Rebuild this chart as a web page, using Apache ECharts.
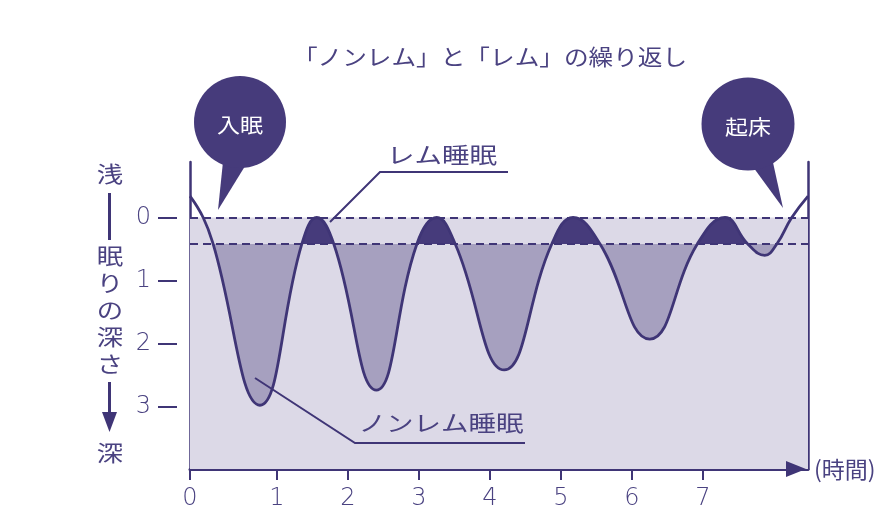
<!DOCTYPE html>
<html><head><meta charset="utf-8">
<script src="https://cdn.jsdelivr.net/npm/echarts@6/dist/echarts.min.js"></script>
<style>html,body{margin:0;padding:0;background:#fff}#c{width:886px;height:532px}</style>
</head><body><div id="c"></div>
<script>
// ---- data ----
const hours = [-0.225, -0.04, 0.10, 0.76, 1.35, 1.56, 1.80, 2.40, 2.97, 3.25, 3.51, 4.20, 4.87, 5.17, 5.55, 6.25, 6.92, 7.31, 7.63, 7.87, 8.04, 8.25, 8.48];
const depth = [-0.34, 0.00, 0.42, 2.98, 0.42, 0.00, 0.42, 2.74, 0.42, 0.00, 0.42, 2.42, 0.42, 0.00, 0.42, 1.93, 0.42, 0.00, 0.42, 0.60, 0.42, 0.00, -0.34];
const xTickLabels = ['0', '1', '2', '3', '4', '5', '6', '7'];
const yTickLabels = ['0', '1', '2', '3'];
const remLevel = 0.42;          // boundary between REM band and non-REM
const remWindow = [0.197, 7.944]; // hours where REM peaks are shaded

// ---- layout ----
const pxX0 = 206, pxPerHour = 71;       // pixel of hour 0, pixels per hour
const pxY0 = 217.5, pxPerUnit = 63;     // pixel of depth 0, pixels per unit
const gL = 190, gR = 808, gT = 162, gB = 469;
const toH = px => (px - pxX0) / pxPerHour;
const toD = py => (py - pxY0) / pxPerUnit;
const xMin = toH(gL), xMax = toH(gR), yMin = toD(gT), yMax = toD(gB);
const remTop = pxY0, remBot = pxY0 + remLevel * pxPerUnit;
const remL = pxX0 + remWindow[0] * pxPerHour, remR = pxX0 + remWindow[1] * pxPerHour;

const C_DARK = '#463b7b', C_LINE = '#3f3576', C_MED = '#a6a0bf', C_LIGHT = '#dcd9e7', C_TEXT = '#4a4281';
const curve = hours.map((h, i) => [h, depth[i]]);
const xTickValues = xTickLabels.map((t, i) => i === 0 ? xMin : i);
const yTickValues = yTickLabels.map(Number);
const JP = '"Noto Sans CJK JP", sans-serif';
const SM = 0.45;

const chart = echarts.init(document.getElementById('c'), null, {renderer: 'canvas'});
chart.setOption({
  animation: false,
  grid: [
    {left: gL, width: gR - gL, top: gT, height: gB - gT},
    {left: remL, width: remR - remL, top: remTop, height: remBot - remTop},
    {left: gL, width: gR - gL, top: remBot, height: gB - remBot}
  ],
  xAxis: [
    {gridIndex: 0, type: 'value', min: xMin, max: xMax,
     axisLine: {show: true, onZero: false, lineStyle: {color: C_LINE, width: 3}},
     axisTick: {show: true, customValues: xTickValues, length: 11, lineStyle: {color: C_LINE, width: 2}},
     axisLabel: {customValues: xTickValues, formatter: v => xTickLabels[xTickValues.indexOf(v)] ?? '', margin: 18,
                 color: C_TEXT, fontSize: 24, fontFamily: '"DejaVu Sans"', fontWeight: 300},
     splitLine: {show: false},
     name: '(時間)', nameLocation: 'end', nameGap: 6,
     nameTextStyle: {color: C_TEXT, fontSize: 23, fontFamily: JP, verticalAlign: 'middle'}},
    {gridIndex: 1, type: 'value', min: remWindow[0], max: remWindow[1], show: false},
    {gridIndex: 2, type: 'value', min: xMin, max: xMax, show: false}
  ],
  yAxis: [
    {gridIndex: 0, type: 'value', inverse: true, min: yMin, max: yMax,
     axisLine: {show: true, onZero: false, lineStyle: {color: C_LINE, width: 2.5}}, axisTick: {show: false}, axisLabel: {show: false}, splitLine: {show: false}},
    {gridIndex: 0, type: 'value', inverse: true, min: yMin, max: yMax, position: 'left', offset: 13,
     axisLine: {show: false, onZero: false},
     axisTick: {show: true, customValues: yTickValues, length: 19, lineStyle: {color: C_LINE, width: 2}},
     axisLabel: {customValues: yTickValues, formatter: v => yTickLabels[yTickValues.indexOf(v)] ?? '', margin: 26,
                 color: C_TEXT, fontSize: 24, fontFamily: '"DejaVu Sans"', fontWeight: 300},
     splitLine: {show: false}},
    {gridIndex: 0, type: 'value', inverse: true, min: yMin, max: yMax, position: 'right',
     axisLine: {show: true, onZero: false, lineStyle: {color: C_LINE, width: 2.5}}, axisTick: {show: false}, axisLabel: {show: false}, splitLine: {show: false}},
    {gridIndex: 1, type: 'value', inverse: true, min: 0, max: remLevel, show: false},
    {gridIndex: 2, type: 'value', inverse: true, min: remLevel, max: yMax, show: false}
  ],
  series: [
    {type: 'line', xAxisIndex: 0, yAxisIndex: 0, data: [], z: 1, silent: true,
     markArea: {silent: true, itemStyle: {color: C_LIGHT}, data: [[{coord: [xMin, 0]}, {coord: [xMax, yMax]}]]}},
    {type: 'line', xAxisIndex: 2, yAxisIndex: 4, data: curve, smooth: SM, showSymbol: false, clip: true, z: 2,
     lineStyle: {width: 0, opacity: 0}, areaStyle: {color: C_MED, opacity: 1, origin: 'start'}},
    {type: 'line', xAxisIndex: 1, yAxisIndex: 3, data: curve, smooth: SM, showSymbol: false, clip: true, z: 2,
     lineStyle: {width: 0, opacity: 0}, areaStyle: {color: C_DARK, opacity: 1, origin: 'end'}},
    {type: 'line', xAxisIndex: 0, yAxisIndex: 0, data: curve, smooth: SM, showSymbol: false, clip: true, z: 4,
     lineStyle: {color: C_LINE, width: 2.8},
     markLine: {silent: true, symbol: ['none', 'none'], label: {show: false},
                lineStyle: {color: C_LINE, width: 1.8, type: [8, 5]},
                data: [{yAxis: 0}, {yAxis: remLevel}]}}
  ],
  graphic: [
    // x-axis arrow head
    {type: 'polygon', z: 20, shape: {points: [[786, 461], [786, 477], [806, 469]]}, style: {fill: C_LINE}},
    // title
    {type: 'text', x: 490, y: 57, scaleX: 1.12, style: {text: '「ノンレム」と「レム」の繰り返し', fill: C_TEXT, font: '22px ' + JP, align: 'center', verticalAlign: 'middle'}},
    // bubbles
    {type: 'polygon', shape: {points: [[224, 152], [250, 158], [218, 210]]}, style: {fill: C_DARK}},
    {type: 'circle', shape: {cx: 240, cy: 122, r: 46}, style: {fill: C_DARK}},
    {type: 'text', x: 240, y: 125, scaleX: 1.15, style: {text: '入眠', fill: '#fff', font: '20px ' + JP, align: 'center', verticalAlign: 'middle'}},
    {type: 'polygon', shape: {points: [[748, 160], [772, 158], [783, 208]]}, style: {fill: C_DARK}},
    {type: 'circle', shape: {cx: 748, cy: 124, r: 46.5}, style: {fill: C_DARK}},
    {type: 'text', x: 748, y: 127, scaleX: 1.15, style: {text: '起床', fill: '#fff', font: '20px ' + JP, align: 'center', verticalAlign: 'middle'}},
    // annotations
    {type: 'text', x: 442, y: 155, scaleX: 1.25, z: 10, style: {text: 'レム睡眠', fill: C_TEXT, font: '22px ' + JP, align: 'center', verticalAlign: 'middle'}},
    {type: 'polyline', z: 10, shape: {points: [[508, 172], [380, 172], [330, 222]]}, style: {stroke: C_LINE, lineWidth: 2, fill: null}},
    {type: 'text', x: 441, y: 423, scaleX: 1.25, z: 10, style: {text: 'ノンレム睡眠', fill: C_TEXT, font: '22px ' + JP, align: 'center', verticalAlign: 'middle'}},
    {type: 'polyline', z: 10, shape: {points: [[525, 443], [355, 443], [255, 378]]}, style: {stroke: C_LINE, lineWidth: 2, fill: null}},
    // depth axis label
    {type: 'text', x: 110, y: 174, scaleX: 1.2, style: {text: '浅', fill: C_TEXT, font: '22px ' + JP, align: 'center', verticalAlign: 'middle'}},
    {type: 'text', x: 110, y: 453, scaleX: 1.2, style: {text: '深', fill: C_TEXT, font: '22px ' + JP, align: 'center', verticalAlign: 'middle'}},
    {type: 'line', shape: {x1: 109.5, y1: 193, x2: 109.5, y2: 240}, style: {stroke: C_LINE, lineWidth: 3}},
    {type: 'text', x: 110, y: 310, scaleX: 1.2, style: {text: '眠\nり\nの\n深\nさ', fill: C_TEXT, font: '22px ' + JP, lineHeight: 27, align: 'center', verticalAlign: 'middle'}},
    {type: 'line', shape: {x1: 109.5, y1: 382, x2: 109.5, y2: 415}, style: {stroke: C_LINE, lineWidth: 3}},
    {type: 'polygon', shape: {points: [[102, 412], [117, 412], [109.5, 432]]}, style: {fill: C_LINE}}
  ]
});
</script></body></html>
